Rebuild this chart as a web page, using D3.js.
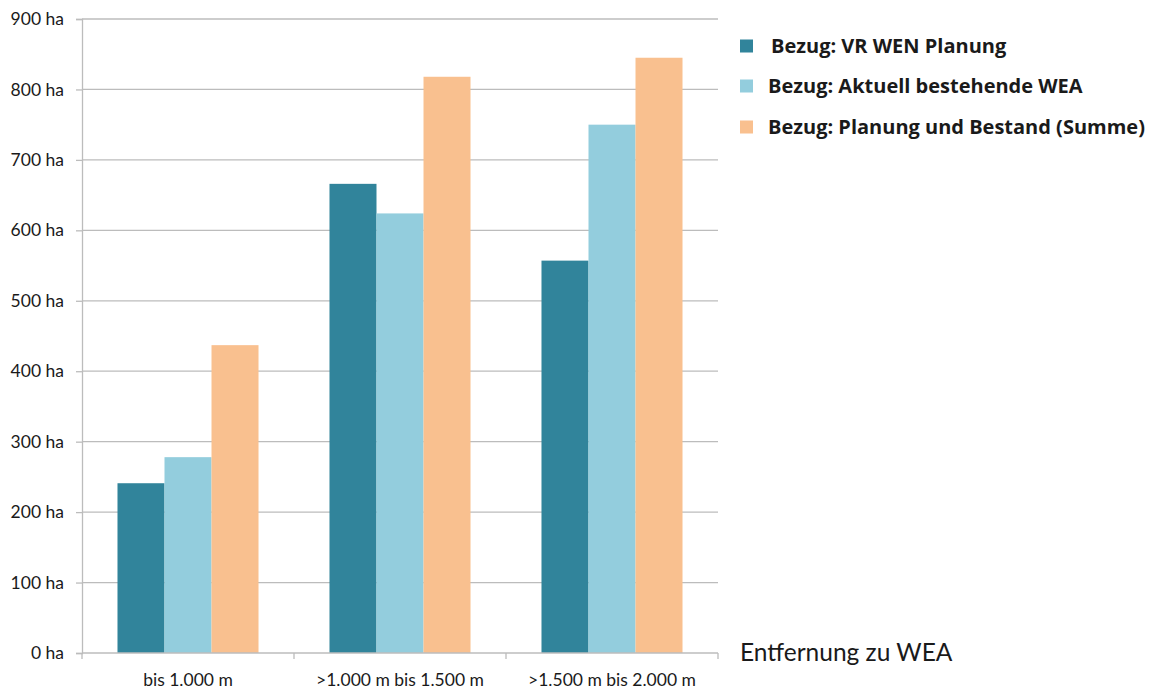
<!DOCTYPE html>
<html>
<head>
<meta charset="utf-8">
<script src="https://cdn.jsdelivr.net/npm/d3@7"></script>
<style>
  html, body { margin: 0; padding: 0; background: #ffffff; }
  svg { display: block; }
  text { font-family: Lato, "Open Sans", sans-serif; fill: #1a1a1a; }
</style>
</head>
<body>
<svg id="chart" width="1156" height="689"></svg>
<script>
// Distance classes on the x axis
const categories = ["bis 1.000 m", ">1.000 m bis 1.500 m", ">1.500 m bis 2.000 m"];

// Series names (legend) and their area values in hectares
const seriesNames = [
  "Bezug: VR WEN Planung",
  "Bezug: Aktuell bestehende WEA",
  "Bezug: Planung und Bestand (Summe)"
];
const planungValues = [241, 666, 557];
const bestandValues = [278, 624, 750];
const summeValues   = [437, 818, 845];

const yTicks = [0, 100, 200, 300, 400, 500, 600, 700, 800, 900];
const xAxisTitle = "Entfernung zu WEA";

const colors = ["#31849b", "#93cddd", "#f9c08f"];
const seriesValues = [planungValues, bestandValues, summeValues];

const svg = d3.select("#chart");

const plotLeft = 82, plotRight = 718, plotTop = 19, plotBottom = 653;

const x = d3.scaleBand().domain(categories).range([plotLeft, plotRight]).paddingInner(0).paddingOuter(0);
const xs = d3.scaleBand().domain(d3.range(seriesNames.length)).range([0, x.bandwidth()])
  .paddingInner(0).paddingOuter(0.755);
const y = d3.scaleLinear().domain([0, 900]).range([plotBottom, plotTop]);

// Horizontal gridlines
svg.append("g")
  .selectAll("line")
  .data(yTicks.filter(t => t > 0))
  .join("line")
  .attr("x1", plotLeft).attr("x2", plotRight)
  .attr("y1", d => y(d)).attr("y2", d => y(d))
  .attr("stroke", "#bcbcbc").attr("stroke-width", 1.3);

// Bars
const groups = svg.append("g")
  .selectAll("g")
  .data(categories)
  .join("g")
  .attr("transform", d => `translate(${x(d)},0)`);

groups.selectAll("rect")
  .data((c, ci) => seriesValues.map((vals, si) => ({ si, v: vals[ci] })))
  .join("rect")
  .attr("x", d => xs(d.si))
  .attr("width", xs.bandwidth())
  .attr("y", d => y(d.v))
  .attr("height", d => y(0) - y(d.v))
  .attr("fill", d => colors[d.si]);

// Y axis
const yAxis = svg.append("g")
  .attr("transform", `translate(${plotLeft},0)`)
  .call(d3.axisLeft(y).tickValues(yTicks).tickFormat(d => `${d} ha`).tickSize(6).tickPadding(12));
yAxis.select(".domain").attr("stroke", "#bcbcbc").attr("stroke-width", 1.3);
yAxis.selectAll(".tick line").attr("stroke", "#bcbcbc").attr("stroke-width", 1.3);
yAxis.selectAll(".tick text")
  .style("font-family", "Lato, sans-serif").style("font-size", "17.5px").attr("fill", "#1a1a1a");

// X axis: line with ticks at category boundaries
const xAxisG = svg.append("g");
xAxisG.append("line")
  .attr("x1", plotLeft).attr("x2", plotRight).attr("y1", plotBottom).attr("y2", plotBottom)
  .attr("stroke", "#bcbcbc").attr("stroke-width", 1.3);
const boundaries = categories.map(c => x(c)).concat([x(categories[categories.length - 1]) + x.bandwidth()]);
xAxisG.selectAll("line.tick")
  .data(boundaries)
  .join("line")
  .attr("class", "tick")
  .attr("x1", d => d).attr("x2", d => d)
  .attr("y1", plotBottom).attr("y2", plotBottom + 6)
  .attr("stroke", "#bcbcbc").attr("stroke-width", 1.3);
xAxisG.selectAll("text")
  .data(categories)
  .join("text")
  .attr("x", d => x(d) + x.bandwidth() / 2)
  .attr("y", 686)
  .attr("text-anchor", "middle")
  .style("font-size", "17.5px")
  .text(d => d);

// Axis title
svg.append("text")
  .attr("x", 740).attr("y", 661)
  .style("font-size", "24.5px")
  .text(xAxisTitle);

// Legend
const legendRows = [46, 86, 127];
const legend = svg.append("g");
legend.selectAll("rect")
  .data(seriesNames)
  .join("rect")
  .attr("x", 740).attr("y", (d, i) => legendRows[i] - 6.5)
  .attr("width", 13).attr("height", 13)
  .attr("fill", (d, i) => colors[i]);
legend.selectAll("text")
  .data(seriesNames)
  .join("text")
  .attr("x", (d, i) => i === 0 ? 771 : 768)
  .attr("y", (d, i) => legendRows[i] + 7)
  .style("font-family", "'Open Sans', sans-serif")
  .style("font-size", "20px")
  .style("font-weight", "bold")
  .attr("fill", "#111111")
  .text(d => d);
</script>
</body>
</html>
